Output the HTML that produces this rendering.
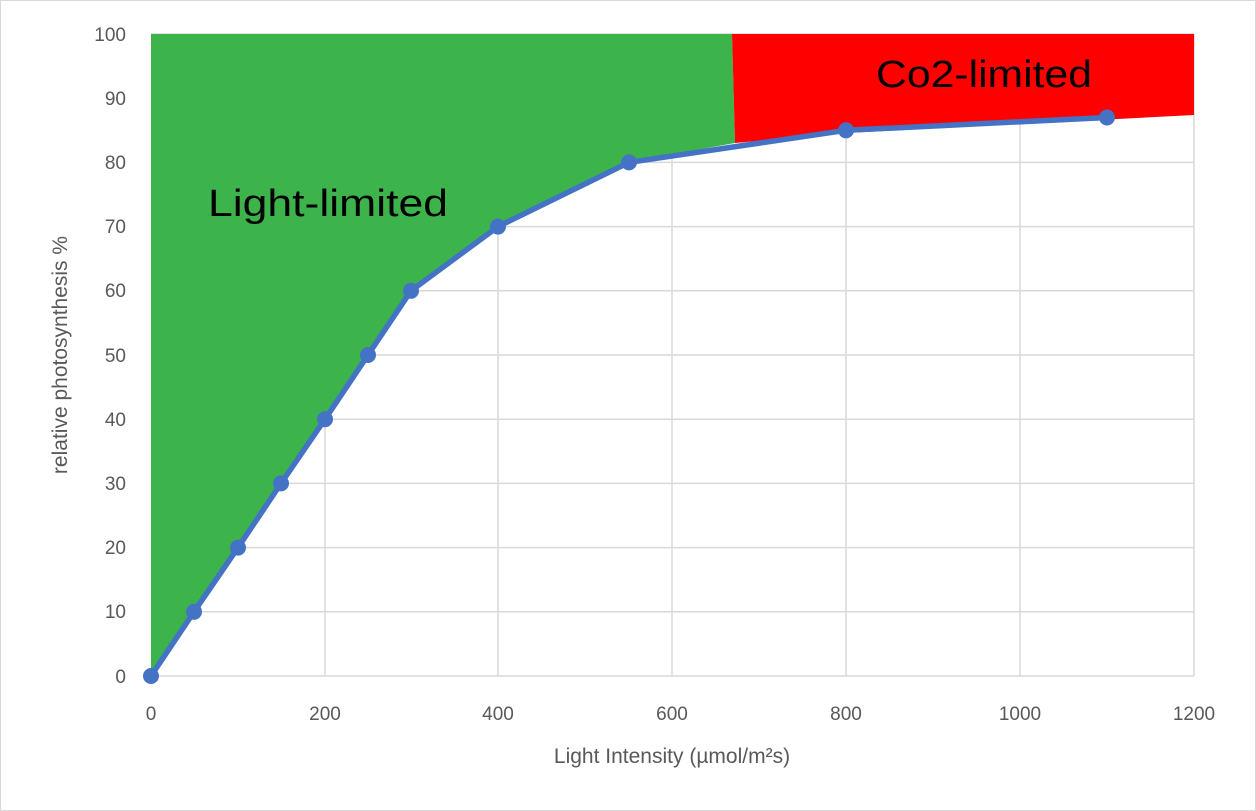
<!DOCTYPE html>
<html><head><meta charset="utf-8"><style>
body{margin:0;background:#fff}
svg{display:block}
text{font-family:"Liberation Sans",sans-serif}
</style></head><body>
<svg width="1256" height="811" viewBox="0 0 1256 811">
<rect x="0.5" y="0.5" width="1255" height="810" fill="#fff" stroke="#d9d9d9"/>
<g stroke="#d9d9d9" stroke-width="1.5">
<line x1="151" y1="34" x2="1194" y2="34"/><line x1="151" y1="98.2" x2="1194" y2="98.2"/>
<line x1="151" y1="162.4" x2="1194" y2="162.4"/><line x1="151" y1="226.6" x2="1194" y2="226.6"/>
<line x1="151" y1="290.8" x2="1194" y2="290.8"/><line x1="151" y1="355" x2="1194" y2="355"/>
<line x1="151" y1="419.2" x2="1194" y2="419.2"/><line x1="151" y1="483.4" x2="1194" y2="483.4"/>
<line x1="151" y1="547.6" x2="1194" y2="547.6"/><line x1="151" y1="611.8" x2="1194" y2="611.8"/>
<line x1="151" y1="676" x2="1194" y2="676"/>
<line x1="325" y1="34" x2="325" y2="676"/><line x1="498" y1="34" x2="498" y2="676"/>
<line x1="672" y1="34" x2="672" y2="676"/><line x1="846" y1="34" x2="846" y2="676"/>
<line x1="1020" y1="34" x2="1020" y2="676"/><line x1="1194" y1="34" x2="1194" y2="676"/>
</g>
<polygon fill="#3cb44b" points="151,34 732,34 735,143 629,162 498,226.6 411,290.8 368,355 325,419.2 281,483.4 238,547.6 194,611.8 151,676"/>
<polygon fill="#ff0000" points="732,34 1194,34 1194,115 846,133 735,143"/>
<polyline fill="none" stroke="#4472c4" stroke-width="5.5" stroke-linejoin="round" points="151,676 194,611.8 238,547.6 281,483.4 325,419.2 368,355 411,290.8 498,226.6 629,162.4 846,130.3 1107,117.5"/>
<g fill="#4472c4">
<circle cx="151" cy="676" r="8"/><circle cx="194" cy="611.8" r="8"/><circle cx="238" cy="547.6" r="8"/>
<circle cx="281" cy="483.4" r="8"/><circle cx="325" cy="419.2" r="8"/><circle cx="368" cy="355" r="8"/>
<circle cx="411" cy="290.8" r="8"/><circle cx="498" cy="226.6" r="8"/><circle cx="629" cy="162.4" r="8"/>
<circle cx="846" cy="130.3" r="8"/><circle cx="1107" cy="117.5" r="8"/>
</g>
<text x="208" y="216" font-size="38" fill="#000" textLength="240" lengthAdjust="spacingAndGlyphs">Light-limited</text>
<text x="876" y="87" font-size="38" fill="#000" textLength="216" lengthAdjust="spacingAndGlyphs">Co2-limited</text>
<g font-size="19" fill="#595959" text-anchor="end">
<text x="126" y="41">100</text><text x="126" y="105">90</text><text x="126" y="169">80</text>
<text x="126" y="233">70</text><text x="126" y="297">60</text><text x="126" y="362">50</text>
<text x="126" y="426">40</text><text x="126" y="490">30</text><text x="126" y="554">20</text>
<text x="126" y="618">10</text><text x="126" y="683">0</text>
</g>
<g font-size="19" fill="#595959" text-anchor="middle">
<text x="151" y="720">0</text><text x="325" y="720">200</text><text x="498" y="720">400</text>
<text x="672" y="720">600</text><text x="846" y="720">800</text><text x="1020" y="720">1000</text>
<text x="1194" y="720">1200</text>
<text x="672" y="763" font-size="21">Light Intensity (µmol/m²s)</text>
<text transform="translate(67,355) rotate(-90)" font-size="21">relative photosynthesis %</text>
</g>
</svg>
</body></html>
